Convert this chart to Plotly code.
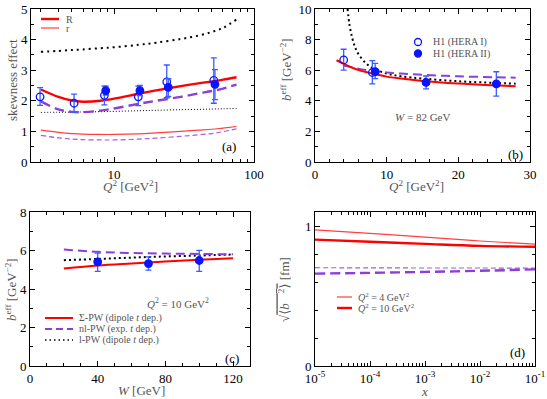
import plotly.graph_objects as go

W_PX, H_PX = 547, 399
FONT = "Liberation Serif, Times New Roman, DejaVu Serif, serif"
RED = "#ff0000"
RED_THIN = "#ff4040"
PURPLE = "#8c3fd6"
PURPLE_THIN = "#a25ee6"
BLUE = "#0a14ff"
BLUE_ERR = "#3b5bff"
GREY = "#555555"

# ---- panel (a): skewness effect vs Q^2 ----
q2_h1_1 = [2.96, 5.18, 8.53, 14.9, 23.8, 51.6]
skew_h1_1 = [2.13, 1.92, 2.18, 2.13, 2.62, 2.67]
skew_h1_1_hi = [2.43, 2.22, 2.48, 2.48, 3.17, 3.40]
skew_h1_1_lo = [1.85, 1.62, 1.87, 1.84, 2.10, 1.92]
q2_h1_2 = [8.72, 15.3, 24.4, 52.6]
skew_h1_2 = [2.33, 2.33, 2.44, 2.54]
skew_h1_2_hi = [2.48, 2.50, 2.72, 3.02]
skew_h1_2_lo = [2.19, 2.17, 2.14, 2.04]

q2_a = [3, 4, 5, 6, 8, 10, 15, 20, 30, 40, 50, 60, 75]
R_sigma = [2.37, 2.13, 2.01, 1.97, 2.0, 2.07, 2.23, 2.34, 2.48, 2.57, 2.63, 2.69, 2.77]
R_nl = [1.98, 1.72, 1.64, 1.63, 1.68, 1.75, 1.90, 2.0, 2.13, 2.24, 2.32, 2.40, 2.53]
R_l = [3.60, 3.63, 3.66, 3.68, 3.72, 3.75, 3.83, 3.90, 4.02, 4.13, 4.25, 4.38, 4.66]
r_l = [1.62, 1.625, 1.63, 1.635, 1.645, 1.655, 1.675, 1.69, 1.71, 1.72, 1.73, 1.74, 1.75]
r_sigma = [1.04, 0.97, 0.93, 0.91, 0.90, 0.90, 0.92, 0.95, 1.0, 1.04, 1.07, 1.11, 1.16]
r_nl = [0.87, 0.79, 0.75, 0.73, 0.72, 0.72, 0.75, 0.78, 0.84, 0.89, 0.93, 0.99, 1.08]

# ---- panel (b): b_eff vs Q^2 at W = 82 GeV ----
q2_b1 = [4.0, 8.0]
b_b1 = [6.67, 5.85]
b_b1_hi = [7.37, 6.63]
b_b1_lo = [6.0, 5.10]
q2_b2 = [8.4, 15.5, 25.3]
b_b2 = [5.90, 5.20, 5.10]
b_b2_hi = [6.45, 5.62, 5.90]
b_b2_lo = [5.45, 4.78, 4.30]

q2_b_sig = [3, 4, 5, 6, 8, 10, 12, 15, 20, 25, 28]
b_sig = [6.65, 6.42, 6.2, 6.02, 5.78, 5.58, 5.45, 5.30, 5.13, 5.01, 4.95]
q2_b_nl = [4, 5, 6, 8, 10, 12, 15, 20, 25, 28]
b_nl = [6.3, 6.2, 6.1, 5.95, 5.85, 5.78, 5.70, 5.60, 5.54, 5.51]
q2_b_l = [4.55, 4.8, 5.2, 5.6, 6, 7, 8, 10, 12, 15, 20, 25, 28]
b_l = [10.0, 9.0, 8.1, 7.5, 7.1, 6.5, 6.15, 5.78, 5.6, 5.45, 5.28, 5.17, 5.12]

# ---- panel (c): b_eff vs W at Q^2 = 10 GeV^2 ----
w_data = [40, 70, 100]
b_w = [5.41, 5.32, 5.48]
b_w_hi = [5.86, 5.67, 6.01]
b_w_lo = [4.92, 4.98, 4.92]
w_grid = [20, 40, 60, 80, 100, 120]
bw_sig = [5.06, 5.22, 5.33, 5.43, 5.52, 5.60]
bw_nl = [6.05, 5.93, 5.87, 5.84, 5.82, 5.80]
bw_l = [5.50, 5.56, 5.63, 5.69, 5.74, 5.79]

# ---- panel (d): sqrt(<b^2>) vs x ----
x_grid = [1e-5, 1e-4, 1e-3, 1e-2, 1e-1]
rb_sig_q4 = [0.972, 0.948, 0.920, 0.893, 0.870]
rb_sig_q10 = [0.903, 0.887, 0.872, 0.858, 0.852]
rb_nl_q4 = [0.702, 0.701, 0.700, 0.700, 0.699]
rb_nl_q10 = [0.660, 0.665, 0.672, 0.680, 0.690]


def px(x):
    return x / W_PX


def py(y):
    return 1 - y / H_PX


def err(v, hi, lo):
    return dict(type="data", symmetric=False,
                array=[h - c for h, c in zip(hi, v)],
                arrayminus=[c - l for l, c in zip(lo, v)],
                color=BLUE_ERR, thickness=1.3, width=3)


fig = go.Figure()


def line(x, y, ax, color, width, dash="solid"):
    fig.add_trace(go.Scatter(x=x, y=y, mode="lines", xaxis="x" + ax, yaxis="y" + ax,
                             line=dict(color=color, width=width, dash=dash, shape="spline"),
                             showlegend=False, hoverinfo="skip"))


def points(x, y, hi, lo, ax, filled):
    fig.add_trace(go.Scatter(x=x, y=y, mode="markers", xaxis="x" + ax, yaxis="y" + ax,
                             marker=dict(symbol="circle" if filled else "circle-open",
                                         size=7.5, color=BLUE,
                                         line=dict(color=BLUE, width=1.3)),
                             error_y=err(y, hi, lo), showlegend=False))


# (a)
line(q2_a, R_l, "", "black", 2, "2px,4px")
line(q2_a, r_l, "", "black", 1, "1px,2px")
line(q2_a, r_sigma, "", RED_THIN, 1.2)
line(q2_a, r_nl, "", PURPLE_THIN, 1.2, "5px,3px")
line(q2_a, R_nl, "", PURPLE, 2.4, "10px,5px")
line(q2_a, R_sigma, "", RED, 2.4)
points(q2_h1_1, skew_h1_1, skew_h1_1_hi, skew_h1_1_lo, "", False)
points(q2_h1_2, skew_h1_2, skew_h1_2_hi, skew_h1_2_lo, "", True)

# (b)
line(q2_b_l, b_l, "2", "black", 2, "2px,3px")
line(q2_b_nl, b_nl, "2", PURPLE, 2, "9px,5px")
line(q2_b_sig, b_sig, "2", RED, 2)
points(q2_b1, b_b1, b_b1_hi, b_b1_lo, "2", False)
points(q2_b2, b_b2, b_b2_hi, b_b2_lo, "2", True)

# (c)
line(w_grid, bw_l, "3", "black", 2, "2px,3px")
line(w_grid, bw_nl, "3", PURPLE, 2, "9px,5px")
line(w_grid, bw_sig, "3", RED, 2)
points(w_data, b_w, b_w_hi, b_w_lo, "3", True)

# (d)
line(x_grid, rb_sig_q4, "4", RED_THIN, 1.2)
line(x_grid, rb_sig_q10, "4", RED, 2.4)
line(x_grid, rb_nl_q4, "4", PURPLE_THIN, 1.2, "5px,3px")
line(x_grid, rb_nl_q10, "4", PURPLE, 2.4, "10px,5px")

tickfont = dict(family=FONT, size=13, color="black")


def axis(dom, anchor, **kw):
    d = dict(domain=dom, anchor=anchor, showline=True, linecolor="black", linewidth=1,
             mirror="allticks", ticks="inside", ticklen=5, tickwidth=1, tickcolor="black",
             showgrid=False, zeroline=False, tickfont=tickfont, automargin=False)
    d.update(kw)
    return d


minor = lambda dt: dict(ticks="inside", ticklen=3, tickcolor="black", dtick=dt, showgrid=False)
minor_a = dict(ticks="inside", ticklen=3, tickcolor="black", showgrid=False,
               tickvals=[3, 4, 5, 6, 7, 8, 9, 20, 30, 40, 50, 60, 70, 80, 90])
minor_d = dict(ticks="inside", ticklen=3, tickcolor="black", showgrid=False,
               tickvals=[m * 10.0 ** e for e in range(-5, -1) for m in range(2, 10)])

xa = [px(31), px(254)]
xb = [px(315), px(530)]
xc = [px(30), px(250)]
xd = [px(315), px(535)]
ytop = [py(162), py(9)]
ybot = [py(366), py(212)]

fig.update_layout(
    width=W_PX, height=H_PX, margin=dict(l=0, r=0, t=0, b=0),
    paper_bgcolor="white", plot_bgcolor="white", showlegend=False,
    font=dict(family=FONT),
    xaxis=axis(xa, "y", type="log", range=[0.4065, 2],
               tickvals=[10, 100], ticktext=["10", "100"], minor=minor_a),
    yaxis=axis(ytop, "x", range=[0, 5], dtick=1, minor=minor(0.5)),
    xaxis2=axis(xb, "y2", range=[0, 30], dtick=10, minor=minor(2)),
    yaxis2=axis(ytop, "x2", range=[0, 10], dtick=2, minor=minor(1)),
    xaxis3=axis(xc, "y3", range=[0, 130], dtick=40, minor=minor(10)),
    yaxis3=axis(ybot, "x3", range=[0, 8], dtick=2, minor=minor(1)),
    xaxis4=axis(xd, "y4", type="log", range=[-5, -1],
                tickvals=[1e-5, 1e-4, 1e-3, 1e-2, 1e-1],
                ticktext=["10<sup>-5</sup>", "10<sup>-4</sup>", "10<sup>-3</sup>",
                          "10<sup>-2</sup>", "10<sup>-1</sup>"], minor=minor_d),
    yaxis4=axis(ybot, "x4", range=[0, 1.1], tickvals=[0, 1.0], ticktext=["0", "1"],
                minor=minor(0.2)),
)

shapes = []
ann = []


def leg_line(x0, x1, y, color, width, dash="solid"):
    shapes.append(dict(type="line", xref="paper", yref="paper", x0=px(x0), x1=px(x1),
                       y0=py(y), y1=py(y), line=dict(color=color, width=width, dash=dash)))


def text(x, y, s, size=11, color=GREY, xanchor="left", angle=0):
    ann.append(dict(xref="paper", yref="paper", x=px(x), y=py(y), text=s, showarrow=False,
                    xanchor=xanchor, yanchor="middle", textangle=angle,
                    font=dict(family=FONT, size=size, color=color)))


# axis titles
q2_title = "<i>Q</i><sup>2</sup> [GeV<sup>2</sup>]"
beff_title = "<i>b</i><sup>eff</sup> [GeV<sup>−2</sup>]"
text(130, 186, q2_title, 13, xanchor="center")
text(12, 80, "skewness effect", 13, xanchor="center", angle=-90)
text(416, 186, q2_title, 13, xanchor="center")
text(286, 70, beff_title, 13, xanchor="center", angle=-90)
text(142, 390, "<i>W</i> [GeV]", 13, xanchor="center")
text(11, 290, beff_title, 13, xanchor="center", angle=-90)
text(424, 391, "<i>x</i>", 13, xanchor="center")
text(284, 289, "√<span style='text-decoration:overline'>⟨<i>b⃗</i><sup>2</sup>⟩</span> [fm]",
     13, xanchor="center", angle=-90)

# legend (a)
leg_line(41, 59, 19, RED, 2.4)
text(64, 19, "R", 10)
leg_line(41, 59, 28, RED_THIN, 1.2)
text(64, 28, "r", 10)

# legend (b)
for y, fill in [(42, "white"), (53.5, BLUE)]:
    shapes.append(dict(type="circle", xref="paper", yref="paper",
                       x0=px(414.5), x1=px(421.5), y0=py(y - 3.5), y1=py(y + 3.5),
                       fillcolor=fill, line=dict(color=BLUE, width=1.3)))
text(431, 42, "H1 (HERA I)", 10)
text(431, 53.5, "H1 (HERA II)", 10)
text(422, 117, "<i>W</i> = 82 GeV", 11, xanchor="center")

# legend (c)
leg_line(45, 73, 318, RED, 2)
text(77, 318, "Σ-PW (dipole <i>t</i> dep.)", 10)
leg_line(45, 73, 329, PURPLE, 2, "7px,4px")
text(77, 329, "nl-PW (exp. <i>t</i> dep.)", 10)
leg_line(45, 73, 340, "black", 1.5, "1.5px,3px")
text(77, 340, "l-PW (dipole <i>t</i> dep.)", 10)
text(178, 303, "<i>Q</i><sup>2</sup> = 10 GeV<sup>2</sup>", 11, xanchor="center")

# legend (d)
leg_line(337, 352, 297, RED_THIN, 1.2)
text(356, 297, "<i>Q</i><sup>2</sup> = 4 GeV<sup>2</sup>", 10)
leg_line(337, 352, 308, RED, 2.4)
text(356, 308, "<i>Q</i><sup>2</sup> = 10 GeV<sup>2</sup>", 10)

# panel labels
for x, y, s in [(229, 146, "(a)"), (515, 154, "(b)"), (232, 358, "(c)"), (517, 352, "(d)")]:
    text(x, y, s, 13, "black", xanchor="center")

fig.update_layout(shapes=shapes, annotations=ann)
fig.write_html("out.html", config={"displayModeBar": False},
               post_script="document.body.style.margin='0px';")
